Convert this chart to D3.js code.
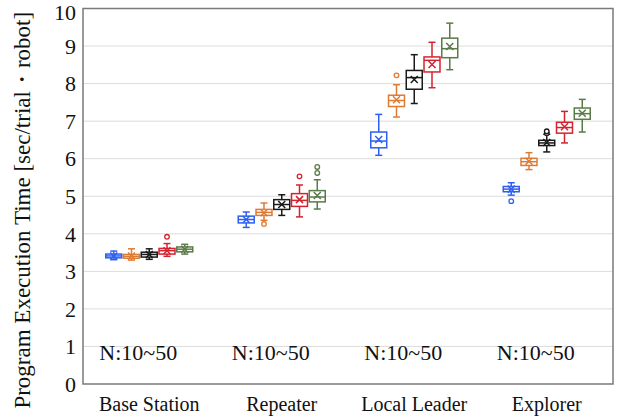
<!DOCTYPE html>
<html>
<head>
<meta charset="utf-8">
<script src="https://cdn.jsdelivr.net/npm/d3@7"></script>
<style>
  html, body { margin: 0; padding: 0; background: #fff; }
  svg { display: block; }
  svg text { font-family: "Liberation Serif", "Times New Roman", serif; fill: #111; }
</style>
</head>
<body>
<svg id="chart" width="620" height="419"></svg>
<script>
// Roles (x groups) and swarm sizes (boxes inside each group)
const categories = ["Base Station", "Repeater", "Local Leader", "Explorer"];
const sizes = ["N=10", "N=20", "N=30", "N=40", "N=50"];
const colors = ["#2d5ff0", "#de7b34", "#1a1a1a", "#d42330", "#5a7a48"];

// Box statistics per role: [min, q1, median, q3, max, mean]
const statsN10 = [[3.31, 3.36, 3.41, 3.46, 3.54, 3.41], [4.17, 4.29, 4.38, 4.47, 4.58, 4.38], [6.09, 6.29, 6.47, 6.71, 7.18, 6.51], [5.03, 5.12, 5.19, 5.26, 5.36, 5.19]];
const statsN20 = [[3.30, 3.35, 3.40, 3.45, 3.60, 3.41], [4.36, 4.49, 4.57, 4.65, 4.82, 4.56], [7.11, 7.39, 7.55, 7.69, 7.97, 7.57], [5.71, 5.82, 5.92, 6.01, 6.16, 5.93]];
const statsN30 = [[3.32, 3.38, 3.45, 3.51, 3.60, 3.45], [4.49, 4.65, 4.78, 4.91, 5.04, 4.78], [7.47, 7.85, 8.16, 8.35, 8.77, 8.11], [6.18, 6.35, 6.42, 6.49, 6.65, 6.43]];
const statsN40 = [[3.40, 3.46, 3.55, 3.61, 3.74, 3.55], [4.45, 4.73, 4.89, 5.07, 5.30, 4.91], [7.89, 8.31, 8.62, 8.71, 9.10, 8.51], [6.42, 6.68, 6.83, 6.97, 7.26, 6.85]];
const statsN50 = [[3.46, 3.52, 3.59, 3.65, 3.72, 3.59], [4.66, 4.85, 4.98, 5.15, 5.44, 5.02], [8.37, 8.69, 8.93, 9.21, 9.61, 8.99], [6.71, 7.05, 7.20, 7.35, 7.58, 7.21]];

// Outliers: [role, size, value]
const outliers = [
  ["Base Station", "N=40", 3.92],
  ["Repeater", "N=20", 4.26],
  ["Repeater", "N=40", 5.53],
  ["Repeater", "N=50", 5.62],
  ["Repeater", "N=50", 5.78],
  ["Local Leader", "N=20", 8.22],
  ["Explorer", "N=10", 4.87],
  ["Explorer", "N=30", 6.68],
  ["Explorer", "N=30", 6.73]
];

const yTicks = [0, 1, 2, 3, 4, 5, 6, 7, 8, 9, 10];
const groupNote = "N:10~50";
const yTitle = "Program Execution Time [sec/trial・robot]";

const allStats = [statsN10, statsN20, statsN30, statsN40, statsN50];
const boxes = [];
sizes.forEach((s, si) => {
  categories.forEach((c, ci) => {
    const [min, q1, med, q3, max, mean] = allStats[si][ci];
    boxes.push({ cat: c, size: s, min, q1, med, q3, max, mean });
  });
});

const serif = '"Liberation Serif", "Times New Roman", serif';
const svg = d3.select("#chart");
const plot = { left: 83, right: 613, top: 8.5, bottom: 384 };

const x0 = d3.scaleBand().domain(categories)
  .range([plot.left, plot.right]).paddingInner(0.33).paddingOuter(0.165);
const x1 = d3.scaleBand().domain(sizes)
  .range([0, x0.bandwidth()]).paddingInner(0.1).paddingOuter(0.05);
const y = d3.scaleLinear().domain([0, 10]).range([plot.bottom, plot.top]);
const color = d3.scaleOrdinal().domain(sizes).range(colors);

// Horizontal grid
svg.append("g")
  .selectAll("line").data(yTicks.slice(1, -1)).join("line")
  .attr("x1", plot.left).attr("x2", plot.right)
  .attr("y1", d => y(d)).attr("y2", d => y(d))
  .attr("stroke", "#dcdcdc").attr("stroke-width", 1);

// Y tick labels
svg.append("g").selectAll("text").data(yTicks).join("text")
  .attr("x", plot.left - 7)
  .attr("y", d => y(d))
  .attr("dy", d => d === 10 ? "0.5em" : "0.35em")
  .attr("text-anchor", "end")
  .attr("font-family", serif)
  .attr("font-size", 22)
  .text(d3.format("d"));

// Category labels
svg.append("g").selectAll("text").data(categories).join("text")
  .attr("x", d => x0(d) + x0.bandwidth() / 2)
  .attr("y", 411)
  .attr("text-anchor", "middle")
  .attr("font-family", serif)
  .attr("font-size", 20)
  .text(d => d);

// Y title
svg.append("text")
  .attr("transform", `translate(30,${(plot.top + plot.bottom) / 2 + 14}) rotate(-90)`)
  .attr("text-anchor", "middle")
  .attr("font-family", serif)
  .attr("font-size", 23)
  .text(yTitle);

// Boxes
const bw = x1.bandwidth();
const g = svg.append("g");
const box = g.selectAll("g.box").data(boxes).join("g")
  .attr("class", "box")
  .attr("transform", d => `translate(${x0(d.cat) + x1(d.size)},0)`)
  .attr("stroke", d => color(d.size))
  .attr("stroke-width", 1.5)
  .attr("fill", "none");

const cx = bw / 2, cap = 3.5;
box.append("line").attr("x1", cx).attr("x2", cx).attr("y1", d => y(d.max)).attr("y2", d => y(d.q3));
box.append("line").attr("x1", cx).attr("x2", cx).attr("y1", d => y(d.q1)).attr("y2", d => y(d.min));
box.append("line").attr("x1", cx - cap).attr("x2", cx + cap).attr("y1", d => y(d.max)).attr("y2", d => y(d.max));
box.append("line").attr("x1", cx - cap).attr("x2", cx + cap).attr("y1", d => y(d.min)).attr("y2", d => y(d.min));
box.append("rect").attr("x", 0).attr("width", bw)
  .attr("y", d => y(d.q3)).attr("height", d => y(d.q1) - y(d.q3))
  .attr("fill", "#fff");
box.append("line").attr("x1", 0).attr("x2", bw).attr("y1", d => y(d.med)).attr("y2", d => y(d.med));
const m = 3.5;
box.append("path").attr("d", d => {
  const yy = y(d.mean);
  return `M${cx - m},${yy - m}L${cx + m},${yy + m}M${cx - m},${yy + m}L${cx + m},${yy - m}`;
});

// Outlier points
g.selectAll("circle.out").data(outliers).join("circle")
  .attr("class", "out")
  .attr("cx", d => x0(d[0]) + x1(d[1]) + bw / 2)
  .attr("cy", d => y(d[2]))
  .attr("r", 2.3)
  .attr("fill", "#fff")
  .attr("stroke", d => color(d[1]))
  .attr("stroke-width", 1.3);

// Group notes
svg.append("g").selectAll("text").data(categories).join("text")
  .attr("x", d => x0(d) + x0.bandwidth() / 2 - 11)
  .attr("y", 360)
  .attr("text-anchor", "middle")
  .attr("font-family", serif)
  .attr("font-size", 22)
  .text(groupNote);

// Frame
svg.append("rect")
  .attr("x", plot.left).attr("y", plot.top)
  .attr("width", plot.right - plot.left).attr("height", plot.bottom - plot.top)
  .attr("fill", "none").attr("stroke", "#7a7a7a").attr("stroke-width", 1.5);
</script>
</body>
</html>
